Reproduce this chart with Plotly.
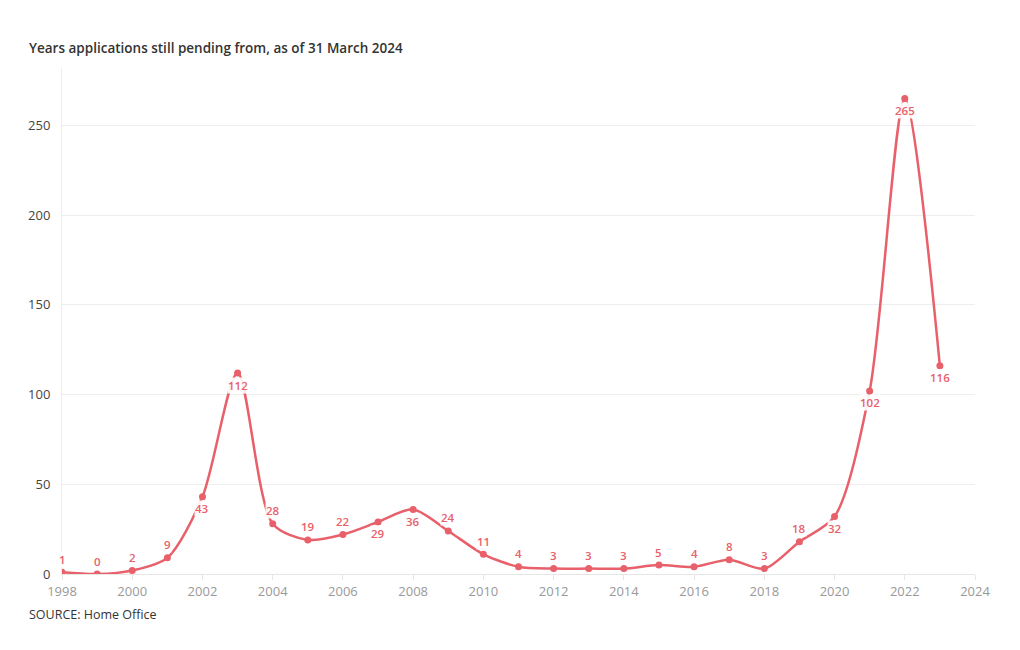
import plotly.graph_objects as go

years = list(range(1998, 2024))
pending = [1, 0, 2, 9, 43, 112, 28, 19, 22, 29, 36, 24, 11, 4, 3, 3, 3, 5, 4, 8, 3, 18, 32, 102, 265, 116]
label_side = ["a", "a", "a", "a", "b", "b", "a", "a", "a", "b", "b", "a", "a", "a", "a", "a", "a", "a", "a", "a", "a", "a", "b", "b", "b", "b"]
x_ticks = list(range(1998, 2025, 2))
y_ticks = [0, 50, 100, 150, 200, 250]

RED = "#e8606a"
FONT = "Open Sans"

fig = go.Figure()
fig.add_trace(go.Scatter(
    x=years, y=pending, mode="lines+markers",
    line=dict(color=RED, width=2.5, shape="spline", smoothing=0.8),
    marker=dict(color=RED, size=7),
    hoverinfo="x+y", showlegend=False,
))

for xv, yv, side in zip(years, pending, label_side):
    fig.add_annotation(
        x=xv, y=yv, text=str(yv), showarrow=False,
        yshift=13 if side == "a" else -12,
        font=dict(family=FONT, size=11.5, color=RED, weight=600),
        bgcolor="rgba(255,255,255,0.9)", borderpad=0,
    )

fig.add_annotation(
    xref="paper", yref="paper", x=-0.038, y=1.0, yshift=9,
    text="Years applications still pending from, as of 31 March 2024",
    showarrow=False, xanchor="left", yanchor="bottom",
    font=dict(family=FONT, size=13.5, color="#333333", weight=600),
)
fig.add_annotation(
    xref="paper", yref="paper", x=-0.038, y=0, yshift=-51,
    text="SOURCE: Home Office",
    showarrow=False, xanchor="left", yanchor="bottom",
    font=dict(family=FONT, size=12.5, color="#333333"),
)

fig.update_layout(
    width=1012, height=642,
    margin=dict(l=54, r=45, t=60, b=76),
    paper_bgcolor="white", plot_bgcolor="white",
    font=dict(family=FONT),
    xaxis=dict(
        range=[1998, 2024], tickvals=x_ticks, showgrid=False,
        showline=True, linecolor="#e6e6e6", linewidth=1,
        ticks="outside", ticklen=5, tickcolor="#e6e6e6",
        tickfont=dict(family=FONT, size=13, color="#999999"),
        zeroline=False,
    ),
    yaxis=dict(
        range=[0, 282], tickvals=y_ticks, showgrid=True, gridcolor="#eeeeee",
        showline=True, linecolor="#eeeeee", zeroline=False,
        tickfont=dict(family=FONT, size=13, color="#444444"),
        ticklabelstandoff=8,
    ),
)

fig.write_html("out.html")
